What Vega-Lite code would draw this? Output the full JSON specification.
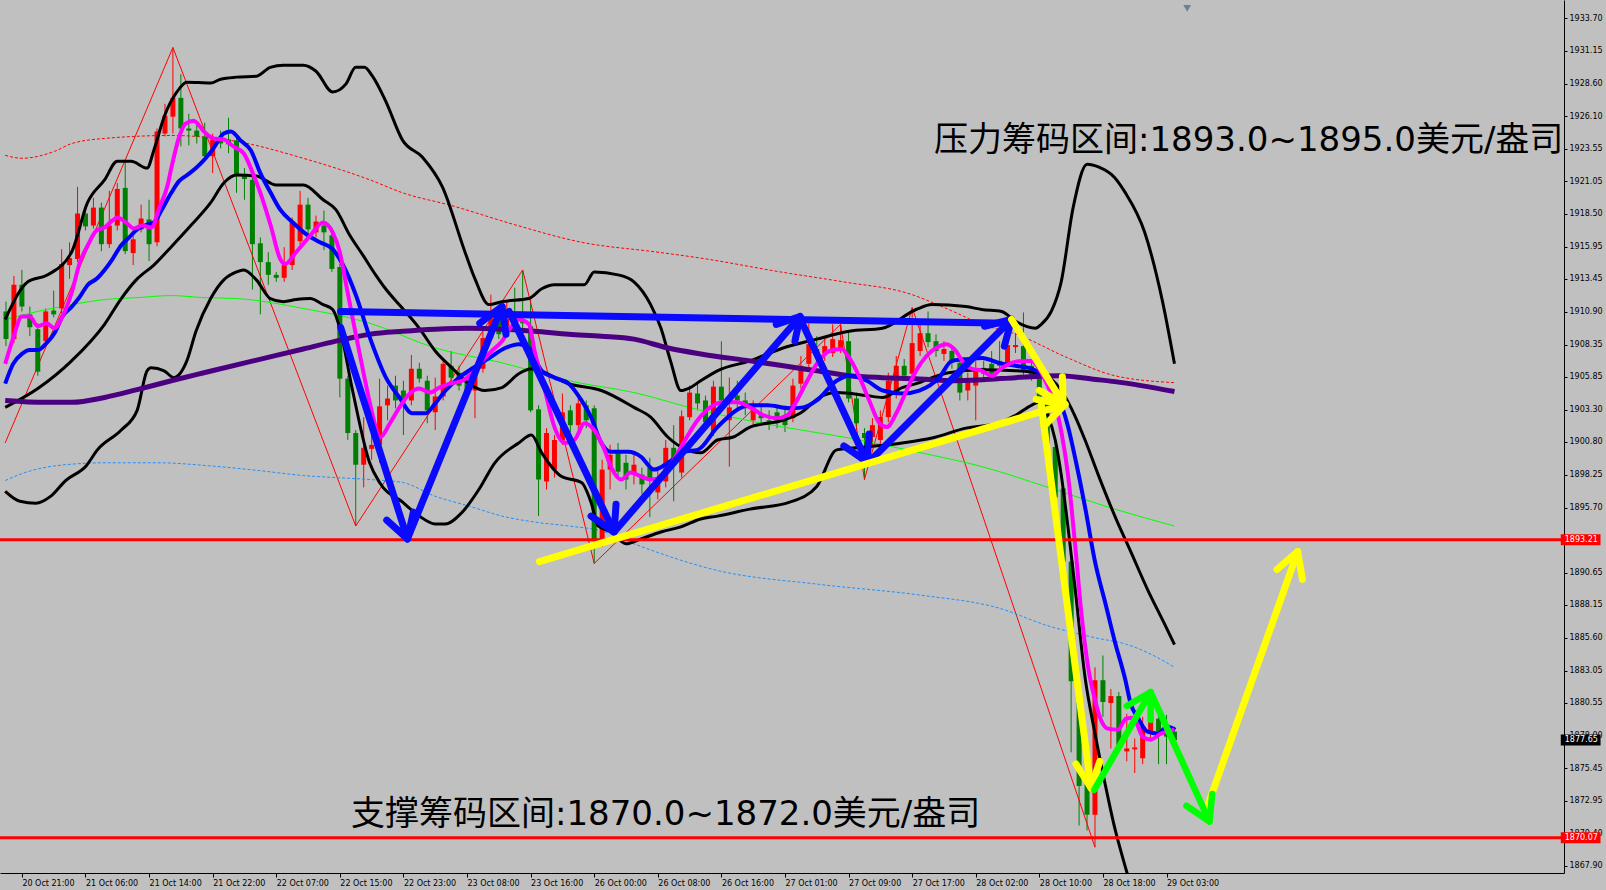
{
"$schema": "https://vega.github.io/schema/vega-lite/v6.json",
"width": 1564, "height": 873,
"autosize": {"type": "none"},
"padding": {"left": 0, "top": 0, "right": 42, "bottom": 17},
"background": "#C0C0C0",
"config": {"view": {"stroke": null}, "axis": {"labelOverlap": false, "labelFlush": false, "labelBound": false}},
"datasets": {
"candles": [
{"x":0,"o":1910.93,"h":1911.69,"l":1908.24,"c":1908.78},
{"x":1,"o":1908.78,"h":1913.69,"l":1908.47,"c":1913.00},
{"x":2,"o":1913.00,"h":1914.15,"l":1910.93,"c":1911.31},
{"x":3,"o":1910.70,"h":1911.31,"l":1909.01,"c":1909.70},
{"x":4,"o":1909.55,"h":1910.01,"l":1905.94,"c":1906.25},
{"x":5,"o":1908.62,"h":1911.16,"l":1908.24,"c":1910.93},
{"x":6,"o":1911.00,"h":1912.54,"l":1910.47,"c":1910.70},
{"x":7,"o":1911.16,"h":1915.76,"l":1910.77,"c":1914.61},
{"x":8,"o":1914.53,"h":1916.30,"l":1913.46,"c":1915.07},
{"x":9,"o":1915.00,"h":1920.60,"l":1914.76,"c":1918.53},
{"x":10,"o":1918.53,"h":1918.83,"l":1917.22,"c":1917.53},
{"x":11,"o":1917.60,"h":1919.75,"l":1917.37,"c":1918.99},
{"x":12,"o":1918.99,"h":1919.37,"l":1915.61,"c":1916.15},
{"x":13,"o":1916.15,"h":1920.29,"l":1915.84,"c":1917.60},
{"x":14,"o":1917.60,"h":1920.90,"l":1917.22,"c":1920.44},
{"x":15,"o":1920.52,"h":1922.59,"l":1915.38,"c":1915.61},
{"x":16,"o":1915.46,"h":1916.91,"l":1914.53,"c":1916.53},
{"x":17,"o":1917.30,"h":1919.22,"l":1917.07,"c":1918.14},
{"x":18,"o":1918.07,"h":1919.60,"l":1914.84,"c":1916.15},
{"x":19,"o":1916.30,"h":1925.13,"l":1915.99,"c":1924.90},
{"x":20,"o":1924.74,"h":1927.05,"l":1924.51,"c":1926.12},
{"x":21,"o":1926.05,"h":1931.42,"l":1924.74,"c":1927.51},
{"x":22,"o":1927.51,"h":1929.35,"l":1923.74,"c":1925.13},
{"x":23,"o":1925.13,"h":1926.28,"l":1923.82,"c":1924.97},
{"x":24,"o":1924.97,"h":1925.59,"l":1923.97,"c":1924.51},
{"x":25,"o":1924.51,"h":1925.59,"l":1922.59,"c":1922.98},
{"x":26,"o":1922.98,"h":1924.74,"l":1921.67,"c":1924.28},
{"x":27,"o":1924.21,"h":1924.97,"l":1923.59,"c":1923.97},
{"x":28,"o":1924.28,"h":1925.97,"l":1923.21,"c":1923.90},
{"x":29,"o":1924.21,"h":1924.74,"l":1920.14,"c":1921.44},
{"x":30,"o":1921.44,"h":1922.06,"l":1919.60,"c":1921.21},
{"x":31,"o":1921.14,"h":1921.67,"l":1912.62,"c":1916.15},
{"x":32,"o":1916.22,"h":1916.68,"l":1910.70,"c":1914.76},
{"x":33,"o":1914.76,"h":1915.53,"l":1913.00,"c":1913.77},
{"x":34,"o":1913.77,"h":1914.00,"l":1913.23,"c":1913.54},
{"x":35,"o":1913.54,"h":1915.92,"l":1913.23,"c":1914.53},
{"x":36,"o":1914.53,"h":1918.22,"l":1914.15,"c":1917.83},
{"x":37,"o":1916.38,"h":1920.29,"l":1916.07,"c":1919.22},
{"x":38,"o":1919.22,"h":1919.75,"l":1916.91,"c":1917.30},
{"x":39,"o":1917.07,"h":1918.37,"l":1916.68,"c":1917.91},
{"x":40,"o":1917.60,"h":1918.76,"l":1915.69,"c":1917.07},
{"x":41,"o":1916.84,"h":1917.22,"l":1914.00,"c":1914.23},
{"x":42,"o":1914.38,"h":1914.61,"l":1904.25,"c":1905.71},
{"x":43,"o":1905.71,"h":1905.94,"l":1900.95,"c":1901.49},
{"x":44,"o":1901.49,"h":1901.72,"l":1894.27,"c":1899.03},
{"x":45,"o":1899.03,"h":1902.72,"l":1897.27,"c":1900.34},
{"x":46,"o":1900.26,"h":1901.72,"l":1899.41,"c":1900.57},
{"x":47,"o":1900.57,"h":1905.71,"l":1899.18,"c":1903.56},
{"x":48,"o":1903.64,"h":1905.17,"l":1902.48,"c":1904.17},
{"x":49,"o":1905.17,"h":1905.94,"l":1903.41,"c":1904.02},
{"x":50,"o":1904.79,"h":1905.55,"l":1901.33,"c":1903.87},
{"x":51,"o":1904.02,"h":1907.55,"l":1903.64,"c":1906.48},
{"x":52,"o":1906.48,"h":1906.94,"l":1905.40,"c":1905.71},
{"x":53,"o":1905.55,"h":1905.94,"l":1902.25,"c":1903.25},
{"x":54,"o":1903.10,"h":1905.79,"l":1901.72,"c":1904.33},
{"x":55,"o":1904.33,"h":1907.32,"l":1904.02,"c":1906.86},
{"x":56,"o":1906.71,"h":1907.86,"l":1905.40,"c":1905.79},
{"x":57,"o":1906.17,"h":1906.71,"l":1904.79,"c":1905.17},
{"x":58,"o":1905.55,"h":1906.32,"l":1904.40,"c":1904.79},
{"x":59,"o":1904.79,"h":1906.71,"l":1902.64,"c":1906.32},
{"x":60,"o":1906.48,"h":1909.39,"l":1906.17,"c":1908.86},
{"x":61,"o":1908.86,"h":1912.23,"l":1908.62,"c":1910.39},
{"x":62,"o":1910.70,"h":1911.46,"l":1908.78,"c":1909.16},
{"x":63,"o":1909.78,"h":1911.69,"l":1909.39,"c":1910.39},
{"x":64,"o":1910.54,"h":1912.77,"l":1909.39,"c":1909.78},
{"x":65,"o":1910.31,"h":1914.15,"l":1909.39,"c":1910.01},
{"x":66,"o":1909.78,"h":1911.93,"l":1903.10,"c":1903.25},
{"x":67,"o":1903.33,"h":1903.64,"l":1895.04,"c":1897.88},
{"x":68,"o":1897.73,"h":1901.87,"l":1897.11,"c":1901.49},
{"x":69,"o":1898.65,"h":1901.33,"l":1898.03,"c":1900.95},
{"x":70,"o":1900.95,"h":1904.56,"l":1900.57,"c":1903.10},
{"x":71,"o":1903.25,"h":1903.64,"l":1901.56,"c":1902.10},
{"x":72,"o":1902.10,"h":1904.17,"l":1901.72,"c":1903.79},
{"x":73,"o":1903.64,"h":1904.02,"l":1901.87,"c":1902.48},
{"x":74,"o":1903.41,"h":1903.64,"l":1891.36,"c":1893.12},
{"x":75,"o":1893.27,"h":1899.41,"l":1892.66,"c":1898.65},
{"x":76,"o":1898.65,"h":1900.57,"l":1897.11,"c":1899.80},
{"x":77,"o":1899.95,"h":1900.72,"l":1897.88,"c":1898.49},
{"x":78,"o":1899.18,"h":1899.80,"l":1897.11,"c":1897.88},
{"x":79,"o":1898.26,"h":1899.80,"l":1897.50,"c":1899.03},
{"x":80,"o":1898.26,"h":1898.80,"l":1896.73,"c":1897.50},
{"x":81,"o":1898.80,"h":1899.57,"l":1894.96,"c":1897.88},
{"x":82,"o":1896.88,"h":1898.65,"l":1896.34,"c":1897.88},
{"x":83,"o":1897.73,"h":1900.95,"l":1897.27,"c":1900.34},
{"x":84,"o":1900.34,"h":1902.10,"l":1896.19,"c":1899.41},
{"x":85,"o":1898.42,"h":1903.25,"l":1898.03,"c":1902.79},
{"x":86,"o":1902.72,"h":1905.17,"l":1902.48,"c":1904.63},
{"x":87,"o":1904.56,"h":1905.32,"l":1903.25,"c":1903.79},
{"x":88,"o":1904.02,"h":1904.40,"l":1901.87,"c":1902.33},
{"x":89,"o":1901.56,"h":1905.55,"l":1901.26,"c":1905.09},
{"x":90,"o":1905.09,"h":1908.62,"l":1903.64,"c":1904.02},
{"x":91,"o":1902.48,"h":1905.79,"l":1898.88,"c":1903.48},
{"x":92,"o":1904.40,"h":1905.55,"l":1903.25,"c":1904.02},
{"x":93,"o":1904.02,"h":1904.63,"l":1902.87,"c":1903.41},
{"x":94,"o":1902.48,"h":1904.02,"l":1902.10,"c":1903.41},
{"x":95,"o":1902.87,"h":1903.64,"l":1902.10,"c":1902.64},
{"x":96,"o":1902.48,"h":1903.25,"l":1901.72,"c":1902.18},
{"x":97,"o":1903.10,"h":1903.64,"l":1901.87,"c":1902.48},
{"x":98,"o":1902.87,"h":1903.41,"l":1901.56,"c":1902.10},
{"x":99,"o":1902.64,"h":1905.71,"l":1902.33,"c":1905.17},
{"x":100,"o":1905.32,"h":1907.47,"l":1904.94,"c":1906.71},
{"x":101,"o":1906.86,"h":1910.01,"l":1906.48,"c":1908.39},
{"x":102,"o":1908.01,"h":1909.01,"l":1906.94,"c":1907.47},
{"x":103,"o":1907.70,"h":1908.86,"l":1907.09,"c":1908.24},
{"x":104,"o":1907.70,"h":1909.93,"l":1907.40,"c":1908.78},
{"x":105,"o":1908.09,"h":1909.93,"l":1907.70,"c":1908.70},
{"x":106,"o":1908.62,"h":1909.39,"l":1903.87,"c":1904.17},
{"x":107,"o":1904.17,"h":1904.63,"l":1901.72,"c":1902.25},
{"x":108,"o":1901.49,"h":1901.87,"l":1897.88,"c":1901.10},
{"x":109,"o":1901.18,"h":1902.64,"l":1900.57,"c":1902.10},
{"x":110,"o":1900.95,"h":1903.25,"l":1900.57,"c":1902.72},
{"x":111,"o":1902.72,"h":1906.17,"l":1902.33,"c":1905.55},
{"x":112,"o":1904.56,"h":1907.47,"l":1904.17,"c":1906.71},
{"x":113,"o":1906.71,"h":1907.24,"l":1905.55,"c":1905.94},
{"x":114,"o":1906.09,"h":1911.23,"l":1905.71,"c":1908.47},
{"x":115,"o":1907.86,"h":1910.16,"l":1907.47,"c":1909.24},
{"x":116,"o":1909.24,"h":1910.93,"l":1908.16,"c":1908.55},
{"x":117,"o":1908.62,"h":1909.16,"l":1907.40,"c":1907.86},
{"x":118,"o":1907.63,"h":1908.62,"l":1907.09,"c":1908.01},
{"x":119,"o":1907.86,"h":1908.24,"l":1906.48,"c":1906.94},
{"x":120,"o":1906.94,"h":1907.47,"l":1904.02,"c":1904.63},
{"x":121,"o":1904.79,"h":1906.17,"l":1904.02,"c":1905.55},
{"x":122,"o":1905.17,"h":1907.09,"l":1902.48,"c":1906.48},
{"x":123,"o":1906.55,"h":1907.09,"l":1905.55,"c":1906.09},
{"x":124,"o":1906.86,"h":1907.86,"l":1905.71,"c":1906.09},
{"x":125,"o":1907.09,"h":1908.62,"l":1906.32,"c":1906.71},
{"x":126,"o":1906.86,"h":1909.01,"l":1906.63,"c":1908.32},
{"x":127,"o":1908.16,"h":1909.24,"l":1907.70,"c":1908.32},
{"x":128,"o":1908.24,"h":1910.85,"l":1906.02,"c":1906.32},
{"x":129,"o":1906.71,"h":1907.09,"l":1905.55,"c":1905.94},
{"x":130,"o":1905.94,"h":1906.32,"l":1903.64,"c":1903.87},
{"x":131,"o":1904.17,"h":1904.40,"l":1900.03,"c":1900.41},
{"x":132,"o":1900.41,"h":1900.80,"l":1896.19,"c":1896.50},
{"x":133,"o":1897.19,"h":1897.50,"l":1891.13,"c":1891.51},
{"x":134,"o":1891.51,"h":1891.74,"l":1876.70,"c":1882.22},
{"x":135,"o":1880.61,"h":1881.76,"l":1871.02,"c":1874.09},
{"x":136,"o":1874.32,"h":1874.85,"l":1870.63,"c":1871.86},
{"x":137,"o":1871.86,"h":1883.30,"l":1869.33,"c":1882.30},
{"x":138,"o":1882.30,"h":1884.22,"l":1879.46,"c":1880.61},
{"x":139,"o":1880.53,"h":1881.61,"l":1877.00,"c":1881.07},
{"x":140,"o":1881.07,"h":1881.38,"l":1876.77,"c":1877.16},
{"x":141,"o":1876.77,"h":1879.69,"l":1876.01,"c":1877.00},
{"x":142,"o":1876.93,"h":1877.77,"l":1875.09,"c":1877.08},
{"x":143,"o":1876.24,"h":1879.46,"l":1875.78,"c":1878.69},
{"x":144,"o":1878.31,"h":1880.61,"l":1877.54,"c":1879.69},
{"x":145,"o":1879.31,"h":1879.84,"l":1875.78,"c":1878.31},
{"x":146,"o":1878.85,"h":1879.61,"l":1875.78,"c":1877.92},
{"x":147,"o":1878.31,"h":1878.69,"l":1877.46,"c":1877.65}
],
"zz": [{"x":-0.1,"y":1900.72},{"x":21,"y":1931.42},{"x":44,"y":1894.27},{"x":65,"y":1914.15},{"x":74,"y":1891.36},{"x":105,"y":1909.93},{"x":108,"y":1897.88},{"x":114,"y":1911.23},{"x":137,"y":1869.33}],
"rdot": [{"x":-0.1,"y":1923.05},{"x":2,"y":1922.82},{"x":6.1,"y":1923.36},{"x":8.3,"y":1923.97},{"x":12.4,"y":1924.36},{"x":20.8,"y":1924.59},{"x":29,"y":1924.13},{"x":37.4,"y":1922.82},{"x":45.8,"y":1921.14},{"x":49.9,"y":1920.14},{"x":56.1,"y":1919.14},{"x":63.9,"y":1917.68},{"x":72.4,"y":1916.30},{"x":82,"y":1915.53},{"x":87.4,"y":1915.07},{"x":97.4,"y":1914.00},{"x":105.3,"y":1913.23},{"x":113.6,"y":1912.31},{"x":118.6,"y":1911.08},{"x":122.8,"y":1909.93},{"x":127.4,"y":1909.09},{"x":133.3,"y":1907.40},{"x":139.5,"y":1905.94},{"x":147,"y":1905.40}],
"bdot": [{"x":-0.1,"y":1897.80},{"x":2.4,"y":1898.42},{"x":6.3,"y":1898.95},{"x":12.6,"y":1899.18},{"x":19.1,"y":1899.18},{"x":25.5,"y":1898.95},{"x":31.9,"y":1898.57},{"x":37.4,"y":1898.19},{"x":41.5,"y":1898.03},{"x":45.8,"y":1897.88},{"x":49.9,"y":1897.65},{"x":54,"y":1896.58},{"x":58.3,"y":1895.81},{"x":62.4,"y":1895.04},{"x":66.5,"y":1894.58},{"x":70.8,"y":1894.27},{"x":74.9,"y":1893.89},{"x":79,"y":1892.89},{"x":89.5,"y":1890.82},{"x":102.3,"y":1889.74},{"x":115.1,"y":1888.90},{"x":124.9,"y":1887.90},{"x":131.1,"y":1886.52},{"x":137,"y":1885.60},{"x":141.1,"y":1885.06},{"x":145.3,"y":1883.91},{"x":147,"y":1883.30}],
"grn": [{"x":-0.1,"y":1910.31},{"x":4,"y":1910.93},{"x":8.3,"y":1911.46},{"x":12.4,"y":1911.85},{"x":16.5,"y":1912.00},{"x":20.8,"y":1912.16},{"x":24.9,"y":1912.00},{"x":29,"y":1911.93},{"x":37.4,"y":1911.16},{"x":45.8,"y":1910.01},{"x":54,"y":1908.09},{"x":62.4,"y":1906.94},{"x":70.8,"y":1905.55},{"x":79,"y":1904.63},{"x":87.4,"y":1903.25},{"x":97.8,"y":1901.95},{"x":106.1,"y":1901.10},{"x":114.5,"y":1900.03},{"x":122.8,"y":1898.88},{"x":131.1,"y":1897.27},{"x":139.5,"y":1895.58},{"x":147,"y":1894.27}],
"bbu": [{"x":-0.1,"y":1910.31},{"x":2.75,"y":1913.23},{"x":5.25,"y":1913.77},{"x":8.25,"y":1915.53},{"x":10.25,"y":1919.37},{"x":12.4,"y":1921.14},{"x":14,"y":1922.59},{"x":15.75,"y":1922.59},{"x":17.75,"y":1922.06},{"x":18.6,"y":1923.44},{"x":19.9,"y":1926.05},{"x":21.5,"y":1927.97},{"x":22.75,"y":1928.73},{"x":25.75,"y":1928.66},{"x":27,"y":1928.96},{"x":29,"y":1929.12},{"x":31.5,"y":1929.19},{"x":33.25,"y":1929.88},{"x":34.9,"y":1930.04},{"x":37.4,"y":1930.04},{"x":39,"y":1929.58},{"x":41.1,"y":1927.97},{"x":42.75,"y":1928.58},{"x":44,"y":1929.88},{"x":45.1,"y":1929.88},{"x":46.1,"y":1929.19},{"x":47.75,"y":1927.28},{"x":49.9,"y":1924.21},{"x":52.4,"y":1922.90},{"x":54.9,"y":1920.60},{"x":57.75,"y":1915.53},{"x":59,"y":1913.46},{"x":60.75,"y":1911.46},{"x":62.4,"y":1911.69},{"x":65.75,"y":1911.93},{"x":67.4,"y":1912.69},{"x":69,"y":1913.00},{"x":72.75,"y":1913.00},{"x":74,"y":1914.00},{"x":77,"y":1913.77},{"x":79,"y":1913.23},{"x":81.1,"y":1911.46},{"x":82.4,"y":1909.62},{"x":83.6,"y":1907.09},{"x":84.9,"y":1904.79},{"x":86.1,"y":1905.02},{"x":87.4,"y":1905.55},{"x":89.5,"y":1906.32},{"x":93.6,"y":1907.09},{"x":97.75,"y":1908.09},{"x":102,"y":1908.78},{"x":106.1,"y":1909.39},{"x":110.25,"y":1909.62},{"x":114.5,"y":1911.08},{"x":116.5,"y":1911.46},{"x":120.75,"y":1911.31},{"x":122.75,"y":1911.08},{"x":125.25,"y":1910.93},{"x":127,"y":1910.16},{"x":129.5,"y":1909.62},{"x":130.25,"y":1909.93},{"x":131.5,"y":1910.93},{"x":132.75,"y":1913.23},{"x":134.25,"y":1918.99},{"x":136,"y":1922.36},{"x":137.5,"y":1922.13},{"x":139.4,"y":1921.37},{"x":140.75,"y":1920.21},{"x":143.25,"y":1917.07},{"x":145.5,"y":1911.69},{"x":147,"y":1906.86}],
"bbm": [{"x":-0.1,"y":1903.48},{"x":4,"y":1904.94},{"x":8.25,"y":1907.09},{"x":12.4,"y":1909.93},{"x":14.5,"y":1911.93},{"x":16.5,"y":1913.46},{"x":18.6,"y":1914.53},{"x":20.75,"y":1915.92},{"x":23.25,"y":1917.60},{"x":25.75,"y":1919.37},{"x":27.4,"y":1920.90},{"x":29,"y":1921.52},{"x":31.5,"y":1921.44},{"x":34,"y":1920.75},{"x":37.4,"y":1920.75},{"x":39.9,"y":1919.60},{"x":41.5,"y":1918.83},{"x":43.25,"y":1916.84},{"x":44.9,"y":1915.30},{"x":46.5,"y":1913.77},{"x":47.75,"y":1912.69},{"x":49.9,"y":1911.16},{"x":52,"y":1909.62},{"x":54,"y":1907.86},{"x":56.1,"y":1906.55},{"x":58.25,"y":1905.32},{"x":60.25,"y":1904.79},{"x":62.4,"y":1905.02},{"x":64.5,"y":1906.09},{"x":66.1,"y":1906.48},{"x":70.75,"y":1905.32},{"x":74.9,"y":1904.79},{"x":79,"y":1903.48},{"x":81.1,"y":1902.72},{"x":83.25,"y":1901.18},{"x":87.4,"y":1899.95},{"x":89.5,"y":1900.95},{"x":91.5,"y":1901.18},{"x":93.6,"y":1901.95},{"x":97.75,"y":1902.48},{"x":99.9,"y":1903.02},{"x":102.75,"y":1904.40},{"x":104.5,"y":1904.63},{"x":108.25,"y":1904.40},{"x":110.25,"y":1904.25},{"x":112.75,"y":1905.02},{"x":114.5,"y":1905.32},{"x":116.5,"y":1905.79},{"x":118.6,"y":1906.17},{"x":122.75,"y":1906.40},{"x":127,"y":1906.32},{"x":130.25,"y":1906.09},{"x":132.75,"y":1904.79},{"x":134.5,"y":1902.79},{"x":135.75,"y":1900.95},{"x":137.4,"y":1898.26},{"x":139.5,"y":1895.04},{"x":141.5,"y":1892.28},{"x":143.6,"y":1889.36},{"x":145.75,"y":1886.67},{"x":147,"y":1885.06}],
"bbl": [{"x":-0.1,"y":1896.96},{"x":1.75,"y":1896.19},{"x":3.75,"y":1896.04},{"x":5.6,"y":1896.57},{"x":7.5,"y":1897.80},{"x":10.1,"y":1898.95},{"x":11.5,"y":1900.18},{"x":14.5,"y":1901.72},{"x":16.5,"y":1903.25},{"x":17.75,"y":1906.32},{"x":18.25,"y":1906.55},{"x":19.9,"y":1906.32},{"x":21.1,"y":1905.79},{"x":22.75,"y":1907.09},{"x":23.9,"y":1909.39},{"x":25.75,"y":1911.93},{"x":27.4,"y":1913.38},{"x":29,"y":1914.00},{"x":29.9,"y":1914.15},{"x":31.5,"y":1913.38},{"x":33.25,"y":1911.93},{"x":34.9,"y":1911.69},{"x":36.5,"y":1911.85},{"x":38.25,"y":1911.93},{"x":39.9,"y":1911.46},{"x":41.1,"y":1911.08},{"x":42,"y":1909.62},{"x":43.6,"y":1904.79},{"x":45.75,"y":1899.18},{"x":47,"y":1897.65},{"x":49.9,"y":1896.12},{"x":52,"y":1895.04},{"x":54,"y":1894.43},{"x":55.25,"y":1894.43},{"x":57.4,"y":1895.35},{"x":59.5,"y":1897.11},{"x":61.5,"y":1899.18},{"x":64.5,"y":1900.72},{"x":66.1,"y":1901.33},{"x":67.4,"y":1899.95},{"x":69.9,"y":1898.11},{"x":72.4,"y":1897.65},{"x":73.6,"y":1896.12},{"x":74.5,"y":1894.27},{"x":76.1,"y":1893.81},{"x":78,"y":1892.89},{"x":79.9,"y":1893.27},{"x":82.4,"y":1893.81},{"x":84.9,"y":1894.20},{"x":87.4,"y":1894.81},{"x":89.5,"y":1895.04},{"x":93.6,"y":1895.58},{"x":98.6,"y":1896.12},{"x":102,"y":1897.34},{"x":104.5,"y":1900.18},{"x":108.25,"y":1900.41},{"x":112.75,"y":1900.72},{"x":116.5,"y":1901.10},{"x":120.75,"y":1901.87},{"x":124.9,"y":1902.25},{"x":127,"y":1902.87},{"x":129,"y":1903.64},{"x":129.9,"y":1903.87},{"x":131.1,"y":1902.79},{"x":132,"y":1900.95},{"x":132.75,"y":1898.26},{"x":133.6,"y":1894.20},{"x":134.5,"y":1889.44},{"x":135.75,"y":1882.53},{"x":137,"y":1878.16},{"x":138.25,"y":1874.32},{"x":139.5,"y":1870.79},{"x":140.75,"y":1867.95},{"x":142,"y":1865.26}],
"pur": [{"x":-0.1,"y":1904.02},{"x":4.9,"y":1903.87},{"x":8.3,"y":1903.87},{"x":12.4,"y":1904.25},{"x":16.5,"y":1904.86},{"x":20.8,"y":1905.55},{"x":24.9,"y":1906.17},{"x":31.1,"y":1907.09},{"x":37.4,"y":1908.01},{"x":41.5,"y":1908.62},{"x":45.8,"y":1909.16},{"x":49.9,"y":1909.39},{"x":54,"y":1909.55},{"x":58.3,"y":1909.62},{"x":62.4,"y":1909.55},{"x":66.5,"y":1909.39},{"x":70.8,"y":1909.16},{"x":74.9,"y":1909.01},{"x":79,"y":1908.78},{"x":83.3,"y":1908.09},{"x":87.4,"y":1907.63},{"x":93.6,"y":1907.09},{"x":97.8,"y":1906.71},{"x":102,"y":1906.32},{"x":106.1,"y":1905.94},{"x":110.3,"y":1905.79},{"x":114.5,"y":1905.71},{"x":118.6,"y":1905.55},{"x":122.8,"y":1905.63},{"x":127,"y":1905.79},{"x":132.4,"y":1905.94},{"x":137.4,"y":1905.63},{"x":139.5,"y":1905.48},{"x":147,"y":1904.71}],
"blu": [{"x":-0.1,"y":1905.32},{"x":0.9,"y":1906.86},{"x":2,"y":1907.63},{"x":3,"y":1907.93},{"x":4,"y":1907.93},{"x":5.1,"y":1908.47},{"x":6.1,"y":1909.24},{"x":7.1,"y":1910.54},{"x":8.3,"y":1911.31},{"x":9.3,"y":1912.08},{"x":10.3,"y":1913.00},{"x":11.4,"y":1913.46},{"x":12.4,"y":1914.15},{"x":13.4,"y":1915.00},{"x":14.5,"y":1916.07},{"x":15.5,"y":1916.68},{"x":16.5,"y":1917.30},{"x":17.8,"y":1917.68},{"x":18.6,"y":1917.83},{"x":19.6,"y":1918.83},{"x":20.8,"y":1920.14},{"x":21.8,"y":1921.06},{"x":22.8,"y":1921.52},{"x":23.9,"y":1922.06},{"x":24.9,"y":1922.67},{"x":26.1,"y":1923.59},{"x":27.4,"y":1924.74},{"x":28.3,"y":1924.90},{"x":29.5,"y":1924.21},{"x":30.8,"y":1923.44},{"x":32,"y":1921.67},{"x":33.3,"y":1920.14},{"x":34.5,"y":1918.83},{"x":36.1,"y":1917.83},{"x":37.8,"y":1916.91},{"x":39.5,"y":1916.30},{"x":41.1,"y":1915.76},{"x":42.4,"y":1914.53},{"x":44,"y":1912.23},{"x":45.8,"y":1908.86},{"x":47.8,"y":1905.79},{"x":49.5,"y":1904.25},{"x":51.1,"y":1903.02},{"x":52.8,"y":1903.02},{"x":54,"y":1903.79},{"x":55.3,"y":1904.79},{"x":57,"y":1905.79},{"x":58.6,"y":1906.48},{"x":60.8,"y":1907.32},{"x":62.8,"y":1908.09},{"x":64.5,"y":1908.39},{"x":65.8,"y":1908.09},{"x":67.4,"y":1906.32},{"x":69,"y":1905.79},{"x":70.8,"y":1905.32},{"x":72.4,"y":1904.02},{"x":73.6,"y":1902.72},{"x":74.9,"y":1900.72},{"x":76.1,"y":1900.03},{"x":78.3,"y":1900.03},{"x":79.9,"y":1899.64},{"x":81.5,"y":1898.65},{"x":83.3,"y":1899.18},{"x":85.3,"y":1900.03},{"x":87,"y":1900.18},{"x":89.5,"y":1901.95},{"x":93.6,"y":1903.64},{"x":95.8,"y":1903.64},{"x":98.6,"y":1903.41},{"x":100.3,"y":1903.48},{"x":102,"y":1904.02},{"x":104.5,"y":1905.55},{"x":106.1,"y":1905.94},{"x":108.3,"y":1905.55},{"x":110.3,"y":1904.79},{"x":112.8,"y":1904.56},{"x":114.9,"y":1904.79},{"x":117.4,"y":1905.79},{"x":119,"y":1907.09},{"x":121.1,"y":1907.24},{"x":122.8,"y":1907.32},{"x":124.9,"y":1906.94},{"x":127,"y":1906.71},{"x":129,"y":1906.48},{"x":131.1,"y":1905.55},{"x":132.8,"y":1903.64},{"x":133.6,"y":1902.02},{"x":134.5,"y":1899.57},{"x":135.8,"y":1895.58},{"x":137,"y":1891.51},{"x":138.3,"y":1888.29},{"x":139.5,"y":1885.29},{"x":140.8,"y":1882.38},{"x":141.5,"y":1880.46},{"x":142.4,"y":1879.38},{"x":143.6,"y":1878.31},{"x":144.9,"y":1878.16},{"x":146.1,"y":1878.69},{"x":147.1,"y":1878.46}],
"mag": [{"x":-0.1,"y":1906.86},{"x":0.9,"y":1908.86},{"x":2,"y":1910.54},{"x":3,"y":1910.54},{"x":4,"y":1909.78},{"x":5.1,"y":1910.01},{"x":6.1,"y":1909.62},{"x":7.1,"y":1910.54},{"x":8.3,"y":1912.46},{"x":9.3,"y":1914.76},{"x":10.3,"y":1916.07},{"x":11.4,"y":1917.22},{"x":12.4,"y":1917.45},{"x":13.4,"y":1917.99},{"x":14,"y":1918.22},{"x":15.1,"y":1917.83},{"x":16.1,"y":1917.37},{"x":17.1,"y":1917.60},{"x":18.3,"y":1917.45},{"x":19.3,"y":1918.99},{"x":20.3,"y":1920.67},{"x":20.8,"y":1922.06},{"x":21.8,"y":1924.51},{"x":22.6,"y":1925.51},{"x":23.6,"y":1925.74},{"x":24.9,"y":1924.90},{"x":26.1,"y":1924.36},{"x":27.4,"y":1924.28},{"x":28.6,"y":1923.74},{"x":29.9,"y":1923.21},{"x":30.9,"y":1921.90},{"x":32,"y":1920.14},{"x":33.3,"y":1917.60},{"x":34.5,"y":1915.00},{"x":35.1,"y":1914.61},{"x":36.5,"y":1915.53},{"x":38.3,"y":1916.84},{"x":39.9,"y":1917.83},{"x":41.1,"y":1917.07},{"x":42,"y":1915.53},{"x":42.8,"y":1913.00},{"x":44,"y":1909.16},{"x":45.1,"y":1905.79},{"x":45.9,"y":1903.48},{"x":47.1,"y":1901.18},{"x":48.3,"y":1902.25},{"x":49.5,"y":1903.48},{"x":50.8,"y":1904.56},{"x":52,"y":1904.94},{"x":53.3,"y":1904.63},{"x":54.5,"y":1905.02},{"x":55.8,"y":1905.32},{"x":57.4,"y":1905.55},{"x":58.6,"y":1906.09},{"x":59.9,"y":1907.09},{"x":61.1,"y":1907.86},{"x":62.4,"y":1908.62},{"x":63.6,"y":1909.78},{"x":64.6,"y":1910.31},{"x":65.8,"y":1909.93},{"x":66.5,"y":1907.86},{"x":67.8,"y":1904.79},{"x":69,"y":1901.95},{"x":70.3,"y":1900.72},{"x":71.5,"y":1900.95},{"x":72.8,"y":1902.25},{"x":74,"y":1901.72},{"x":75.3,"y":1900.18},{"x":76.1,"y":1898.88},{"x":77.4,"y":1897.88},{"x":78.6,"y":1898.42},{"x":79.9,"y":1898.11},{"x":81.1,"y":1897.88},{"x":82.4,"y":1898.03},{"x":83.6,"y":1899.03},{"x":85.3,"y":1900.80},{"x":87,"y":1902.48},{"x":88.6,"y":1903.48},{"x":90.3,"y":1903.87},{"x":92,"y":1903.87},{"x":93.6,"y":1903.48},{"x":95.3,"y":1902.87},{"x":97,"y":1902.64},{"x":98.3,"y":1902.87},{"x":99.5,"y":1904.02},{"x":100.8,"y":1905.55},{"x":102,"y":1906.86},{"x":103.6,"y":1907.86},{"x":105.1,"y":1908.01},{"x":106.1,"y":1907.32},{"x":107.4,"y":1905.79},{"x":108.6,"y":1904.02},{"x":109.9,"y":1902.25},{"x":110.8,"y":1901.95},{"x":112,"y":1903.02},{"x":113.3,"y":1904.79},{"x":114.5,"y":1906.32},{"x":115.8,"y":1907.47},{"x":117,"y":1908.09},{"x":118.3,"y":1908.39},{"x":119.5,"y":1907.86},{"x":120.3,"y":1907.09},{"x":121.5,"y":1906.48},{"x":122.8,"y":1906.32},{"x":124,"y":1905.94},{"x":125.3,"y":1906.55},{"x":126.5,"y":1906.94},{"x":127.8,"y":1907.09},{"x":129,"y":1907.09},{"x":129.9,"y":1906.55},{"x":130.8,"y":1905.48},{"x":132,"y":1903.64},{"x":132.8,"y":1901.49},{"x":133.6,"y":1898.26},{"x":134.5,"y":1892.81},{"x":135.3,"y":1887.44},{"x":136.1,"y":1883.45},{"x":137,"y":1880.77},{"x":137.8,"y":1879.15},{"x":138.6,"y":1878.54},{"x":139.9,"y":1878.46},{"x":140.9,"y":1879.31},{"x":141.8,"y":1879.38},{"x":143,"y":1877.92},{"x":144,"y":1877.69},{"x":145.3,"y":1878.16},{"x":147,"y":1878.46}],
"barrows": [
{"s":1,"k":0,"x":42.1,"y":1910.93},{"s":1,"k":1,"x":126.1,"y":1910.01},
{"s":2,"k":0,"x":42.1,"y":1909.70},{"s":2,"k":1,"x":50.5,"y":1893.27},
{"s":3,"k":0,"x":47.9,"y":1894.73},{"s":3,"k":1,"x":50.5,"y":1893.27},{"s":3,"k":2,"x":51.25,"y":1895.35},
{"s":4,"k":0,"x":50.5,"y":1893.27},{"s":4,"k":1,"x":62.4,"y":1911.31},
{"s":5,"k":0,"x":59.6,"y":1910.01},{"s":5,"k":1,"x":62.4,"y":1911.31},{"s":5,"k":2,"x":62.9,"y":1909.16},
{"s":6,"k":0,"x":63.3,"y":1910.93},{"s":6,"k":1,"x":76.5,"y":1893.81},
{"s":7,"k":0,"x":73.6,"y":1895.04},{"s":7,"k":1,"x":76.5,"y":1893.81},{"s":7,"k":2,"x":76.75,"y":1895.96},
{"s":8,"k":0,"x":76.5,"y":1893.81},{"s":8,"k":1,"x":99.9,"y":1910.54},
{"s":9,"k":0,"x":96.9,"y":1909.93},{"s":9,"k":1,"x":99.9,"y":1910.54},{"s":9,"k":2,"x":99.25,"y":1908.62},
{"s":10,"k":0,"x":99.9,"y":1910.39},{"s":10,"k":1,"x":108.3,"y":1899.26},
{"s":11,"k":0,"x":105.4,"y":1900.49},{"s":11,"k":1,"x":108.3,"y":1899.26},{"s":11,"k":2,"x":108.6,"y":1901.41},
{"s":12,"k":0,"x":108.6,"y":1899.26},{"s":12,"k":1,"x":126.5,"y":1910.31},
{"s":13,"k":0,"x":123.1,"y":1909.78},{"s":13,"k":1,"x":126.5,"y":1910.31},{"s":13,"k":2,"x":125.6,"y":1908.24}
],
"yarrows": [
{"s":1,"k":0,"x":67.1,"y":1891.51},{"s":1,"k":1,"x":133.25,"y":1903.71},
{"s":2,"k":0,"x":129.6,"y":1904.10},{"s":2,"k":1,"x":133.25,"y":1903.71},{"s":2,"k":2,"x":130.6,"y":1902.03},
{"s":3,"k":0,"x":126.5,"y":1910.31},{"s":3,"k":1,"x":133,"y":1903.79},
{"s":4,"k":0,"x":132.9,"y":1905.86},{"s":4,"k":1,"x":133,"y":1903.79},{"s":4,"k":2,"x":130,"y":1904.79},
{"s":5,"k":0,"x":130.25,"y":1903.64},{"s":5,"k":1,"x":136.5,"y":1873.93},
{"s":6,"k":0,"x":134.6,"y":1875.8},{"s":6,"k":1,"x":136.5,"y":1873.93},{"s":6,"k":2,"x":137.6,"y":1876.0},
{"s":7,"k":0,"x":151,"y":1872.25},{"s":7,"k":1,"x":162.5,"y":1892.28},
{"s":8,"k":0,"x":159.9,"y":1890.90},{"s":8,"k":1,"x":162.5,"y":1892.28},{"s":8,"k":2,"x":163.1,"y":1890.13}
],
"garrows": [
{"s":1,"k":0,"x":136.9,"y":1873.78},{"s":1,"k":1,"x":144,"y":1881.38},
{"s":2,"k":0,"x":141,"y":1880.30},{"s":2,"k":1,"x":144,"y":1881.38},{"s":2,"k":2,"x":144,"y":1879.23},
{"s":3,"k":0,"x":144,"y":1881.38},{"s":3,"k":1,"x":151.4,"y":1871.33},
{"s":4,"k":0,"x":151.75,"y":1873.47},{"s":4,"k":1,"x":151.4,"y":1871.33},{"s":4,"k":2,"x":148.5,"y":1872.55}
],
"notes": [
{"x":116.75,"y":1924.13,"t":"压力筹码区间:1893.0~1895.0美元/盎司"},
{"x":43.4,"y":1871.86,"t":"支撑筹码区间:1870.0~1872.0美元/盎司"}
],
"levels": [{"p":1893.21},{"p":1870.07}],
"tags": [{"p":1893.21,"kind":"level"},{"p":1870.07,"kind":"level"},{"p":1877.65,"kind":"price"}],
"marker": [{"x":148.6,"y":1934.45}]
},
"layer": [
{"data":{"name":"candles"},"mark":{"type":"rule","strokeWidth":1},
 "encoding":{
 "x":{"field":"x","type":"quantitative","scale":{"domain":[-0.125,195.375],"nice":false,"zero":false},
  "axis":{"orient":"bottom","title":null,"grid":false,"tickCount":60,"values":[2,10,18,26,34,42,50,58,66,74,82,90,98,106,114,122,130,138,146],
  "labelExpr":"['20 Oct 21:00','21 Oct 06:00','21 Oct 14:00','21 Oct 22:00','22 Oct 07:00','22 Oct 15:00','22 Oct 23:00','23 Oct 08:00','23 Oct 16:00','26 Oct 00:00','26 Oct 08:00','26 Oct 16:00','27 Oct 01:00','27 Oct 09:00','27 Oct 17:00','28 Oct 02:00','28 Oct 10:00','28 Oct 18:00','29 Oct 03:00'][round((datum.value-2)/8)]",
  "labelAlign":"left","labelBaseline":"top","labelPadding":2,"labelDx":-1,"tickSize":4,"tickColor":"#000000","domainColor":"#000000","domainWidth":1,
  "labelFont":"DejaVu Sans","labelFontSize":8,"labelColor":"#000000","labelOverlap":false,"labelFlush":false}},
 "y":{"field":"l","type":"quantitative","scale":{"domain":[1867.72,1934.72],"nice":false,"zero":false},
  "axis":{"orient":"right","title":null,"grid":false,"format":".2f","tickCount":60,
  "values":[1933.70,1931.15,1928.60,1926.10,1923.55,1921.05,1918.50,1915.95,1913.45,1910.90,1908.35,1905.85,1903.30,1900.80,1898.25,1895.70,1890.65,1888.15,1885.60,1883.05,1880.55,1878.00,1875.45,1872.95,1870.40,1867.90],
  "tickSize":3,"tickColor":"#000000","domainColor":"#000000","domainWidth":1,"labelPadding":2,"labelAlign":"left","labelBaseline":"middle",
  "labelFont":"DejaVu Sans","labelFontSize":8,"labelColor":"#000000","labelOverlap":false,"labelFlush":false}},
 "y2":{"field":"h"},
 "color":{"condition":{"test":"datum.c > datum.o","value":"#FF0000"},"value":"#008000"}}},
{"mark": {"type":"rule","color":"#778899","strokeWidth":1},
 "encoding": {"y": {"datum": 1877.65, "type":"quantitative"}}},
{"data":{"name":"zz"},"mark":{"type":"line","color":"#FF0000","strokeWidth":1,"clip":true},
 "encoding":{"x":{"field":"x","type":"quantitative"},"y":{"field":"y","type":"quantitative"}}},
{"data":{"name":"rdot"},"mark":{"type":"line","color":"#FF0000","strokeWidth":1,"strokeDash":[3,2],"interpolate":"monotone","clip":true},
 "encoding":{"x":{"field":"x","type":"quantitative"},"y":{"field":"y","type":"quantitative"}}},
{"data":{"name":"bdot"},"mark":{"type":"line","color":"#1E90FF","strokeWidth":1,"strokeDash":[3,2],"interpolate":"monotone","clip":true},
 "encoding":{"x":{"field":"x","type":"quantitative"},"y":{"field":"y","type":"quantitative"}}},
{"data":{"name":"grn"},"mark":{"type":"line","color":"#00FF00","strokeWidth":1,"interpolate":"monotone","clip":true},
 "encoding":{"x":{"field":"x","type":"quantitative"},"y":{"field":"y","type":"quantitative"}}},
{"data":{"name":"candles"},"mark":{"type":"bar","orient":"vertical","size":5},
 "encoding":{"x":{"field":"x","type":"quantitative"},
 "y":{"field":"o","type":"quantitative"},
 "y2":{"field":"c"},
 "color":{"condition":{"test":"datum.c > datum.o","value":"#FF0000"},"value":"#008000"}}},
{"data":{"name":"bbu"},"mark":{"type":"line","color":"#000000","strokeWidth":3,"interpolate":"monotone","clip":true},
 "encoding":{"x":{"field":"x","type":"quantitative"},"y":{"field":"y","type":"quantitative"}}},
{"data":{"name":"bbm"},"mark":{"type":"line","color":"#000000","strokeWidth":3,"interpolate":"monotone","clip":true},
 "encoding":{"x":{"field":"x","type":"quantitative"},"y":{"field":"y","type":"quantitative"}}},
{"data":{"name":"bbl"},"mark":{"type":"line","color":"#000000","strokeWidth":3,"interpolate":"monotone","clip":true},
 "encoding":{"x":{"field":"x","type":"quantitative"},"y":{"field":"y","type":"quantitative"}}},
{"data":{"name":"pur"},"mark":{"type":"line","color":"#4B0082","strokeWidth":5,"interpolate":"monotone","clip":true},
 "encoding":{"x":{"field":"x","type":"quantitative"},"y":{"field":"y","type":"quantitative"}}},
{"data":{"name":"blu"},"mark":{"type":"line","color":"#0000FF","strokeWidth":4,"interpolate":"monotone","clip":true},
 "encoding":{"x":{"field":"x","type":"quantitative"},"y":{"field":"y","type":"quantitative"}}},
{"data":{"name":"mag"},"mark":{"type":"line","color":"#FF00FF","strokeWidth":4,"interpolate":"monotone","clip":true},
 "encoding":{"x":{"field":"x","type":"quantitative"},"y":{"field":"y","type":"quantitative"}}},
{"data":{"name":"levels"},"mark":{"type":"rule","color":"#FF0000","strokeWidth":3},
 "encoding":{"y":{"field":"p","type":"quantitative"}}},
{"data":{"name":"barrows"},"mark":{"type":"line","color":"#0A0AFF","strokeWidth":7,"strokeCap":"round","strokeJoin":"round","clip":true},
 "encoding":{"x":{"field":"x","type":"quantitative"},"y":{"field":"y","type":"quantitative"},
 "detail":{"field":"s","type":"nominal"},"order":{"field":"k","type":"quantitative"}}},
{"data":{"name":"yarrows"},"mark":{"type":"line","color":"#FFFF00","strokeWidth":7,"strokeCap":"round","strokeJoin":"round","clip":true},
 "encoding":{"x":{"field":"x","type":"quantitative"},"y":{"field":"y","type":"quantitative"},
 "detail":{"field":"s","type":"nominal"},"order":{"field":"k","type":"quantitative"}}},
{"data":{"name":"garrows"},"mark":{"type":"line","color":"#00FF00","strokeWidth":6.5,"strokeCap":"round","strokeJoin":"round","clip":true},
 "encoding":{"x":{"field":"x","type":"quantitative"},"y":{"field":"y","type":"quantitative"},
 "detail":{"field":"s","type":"nominal"},"order":{"field":"k","type":"quantitative"}}},
{"data":{"name":"notes"},"mark":{"type":"text","align":"left","baseline":"middle","font":"DejaVu Sans, Noto Sans CJK SC","fontSize":34,"color":"#000000"},
 "encoding":{"x":{"field":"x","type":"quantitative"},"y":{"field":"y","type":"quantitative"},"text":{"field":"t"}}},
{"data":{"name":"tags"},"mark":{"type":"bar","orient":"horizontal","size":11,"clip":false},
 "encoding":{"y":{"field":"p","type":"quantitative"},
 "x":{"datum":195.6,"type":"quantitative"},
 "x2":{"datum":200.6},
 "color":{"condition":{"test":"datum.kind == 'price'","value":"#000000"},"value":"#FF0000"}}},
{"data":{"name":"tags"},"mark":{"type":"text","align":"left","baseline":"middle","font":"DejaVu Sans","fontSize":8,"color":"#FFFFFF","clip":false},
 "encoding":{"y":{"field":"p","type":"quantitative"},
 "x":{"datum":196.1,"type":"quantitative"},
 "text":{"field":"p","type":"quantitative","format":".2f"}}},
{"data":{"name":"marker"},"mark":{"type":"point","shape":"triangle-down","filled":true,"size":60,"color":"#708090","opacity":1},
 "encoding":{"x":{"field":"x","type":"quantitative"},"y":{"field":"y","type":"quantitative"}}}
]
}
